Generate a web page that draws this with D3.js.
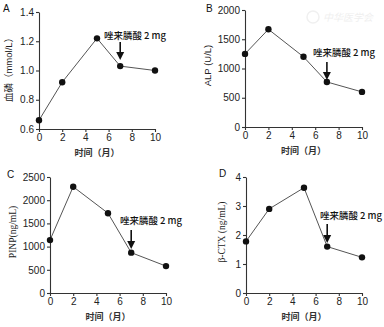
<!DOCTYPE html>
<html><head><meta charset="utf-8">
<script src="https://cdn.jsdelivr.net/npm/d3@7"></script>
<style>body{margin:0;background:#fff}svg{display:block}</style>
</head><body>
<svg id="c" width="384" height="327"></svg>
<script>
const months = [0, 2, 5, 7, 10];
const xTicks = [0, 2, 4, 6, 8, 10];
const phosphate = [0.66, 0.92, 1.22, 1.03, 1.00];
const alp = [1250, 1670, 1200, 770, 600];
const pinp = [1140, 2290, 1720, 870, 580];
const ctx = [1.78, 2.90, 3.63, 1.60, 1.23];
const ticksA = [0.6, 0.8, 1.0, 1.2, 1.4];
const ticksB = [0, 500, 1000, 1500, 2000];
const ticksC = [0, 500, 1000, 1500, 2000, 2500];
const ticksD = [0, 1, 2, 3, 4];
const xLabel = "时间（月）";
const annotation = "唑来膦酸 2 mg";
const drugMonth = 7;

const svg = d3.select("#c");
const sans = "'Liberation Sans', Arial, 'Noto Sans CJK SC', sans-serif";
const serif = "'Liberation Serif', 'Times New Roman', serif";

const panels = [
  {letter:"A", lx:3, ly:7, x0:39, x1:155, yTop:12, yBot:129, dom:[0.6,1.4], ticks:ticksA, fmt:d3.format(".1f"), data:phosphate,
   ylab:"血磷（mmol/L）", ylabX:8, ylabFont:sans, annX:135, annY:39, arrTop:42, arrBot:60},
  {letter:"B", lx:206, ly:7, x0:245, x1:362, yTop:10, yBot:127, dom:[0,2000], ticks:ticksB, fmt:d3.format("d"), data:alp,
   ylab:"ALP (U/L)", ylabX:207, ylabFont:sans, annX:344, annY:56, arrTop:62, arrBot:80},
  {letter:"C", lx:7, ly:173, x0:50, x1:166, yTop:177, yBot:293, dom:[0,2500], ticks:ticksC, fmt:d3.format("d"), data:pinp,
   ylab:"PINP(ng/mL)", ylabX:13, ylabFont:serif, annX:151, annY:224, arrTop:230, arrBot:249},
  {letter:"D", lx:219, ly:172, x0:246, x1:362, yTop:177, yBot:293, dom:[0,4], ticks:ticksD, fmt:d3.format("d"), data:ctx,
   ylab:"β-CTX (ng/mL)", ylabX:222, ylabFont:serif, annX:351, annY:219, arrTop:224, arrBot:243}
];

// faint watermark
svg.append("circle").attr("cx",313).attr("cy",17).attr("r",6).attr("fill","none").attr("stroke","#f0f0f0").attr("stroke-width",1.5);
svg.append("text").attr("x",323).attr("y",21).attr("font-family","'Noto Sans CJK SC'").attr("font-size",10)
  .attr("fill","#efefef").attr("font-style","italic").text("中华医学会");

panels.forEach(p => {
  const x = d3.scaleLinear().domain([0,10]).range([p.x0, p.x1]);
  const y = d3.scaleLinear().domain(p.dom).range([p.yBot, p.yTop]);
  const g = svg.append("g");

  const xa = g.append("g").attr("transform",`translate(0,${p.yBot})`)
    .call(d3.axisBottom(x).tickValues(xTicks).tickSize(3).tickSizeOuter(0).tickPadding(2));
  const ya = g.append("g").attr("transform",`translate(${p.x0},0)`)
    .call(d3.axisLeft(y).tickValues(p.ticks).tickFormat(p.fmt).tickSize(3).tickSizeOuter(0).tickPadding(2));
  [xa, ya].forEach(a => {
    a.selectAll("path,line").attr("stroke","#333").attr("stroke-width",1.1);
    a.selectAll("text").attr("font-family",sans).attr("font-size",10).attr("fill","#222");
  });

  g.append("path").datum(months.map((m,i)=>[m,p.data[i]]))
    .attr("fill","none").attr("stroke","#555").attr("stroke-width",1)
    .attr("d", d3.line().x(d=>x(d[0])).y(d=>y(d[1])));
  g.selectAll("circle.pt").data(months.map((m,i)=>[m,p.data[i]])).enter().append("circle")
    .attr("cx",d=>x(d[0])).attr("cy",d=>y(d[1])).attr("r",3.2).attr("fill","#111");

  g.append("text").attr("x",p.lx).attr("y",p.ly+5).attr("font-family",sans).attr("font-size",10).attr("fill","#111").text(p.letter);

  const cy = (p.yTop+p.yBot)/2 - 3;
  g.append("text").attr("transform",`translate(${p.ylabX},${cy}) rotate(-90)`).attr("text-anchor","middle")
    .attr("dominant-baseline","central").attr("font-family",p.ylabFont).attr("font-size",9.5).attr("fill","#222").text(p.ylab);

  g.append("text").attr("x",(p.x0+p.x1)/2).attr("y",p.yBot+27).attr("text-anchor","middle")
    .attr("font-family","'Noto Sans CJK SC', sans-serif").attr("font-size",9).attr("font-weight","bold").attr("fill","#333").text(xLabel);

  g.append("text").attr("x",p.annX).attr("y",p.annY).attr("text-anchor","middle")
    .attr("font-family","'Noto Sans CJK SC', sans-serif").attr("font-size",9.5).attr("font-weight",500).attr("fill","#111").text(annotation);
  const ax = x(drugMonth);
  g.append("line").attr("x1",ax).attr("x2",ax).attr("y1",p.arrTop).attr("y2",p.arrBot-6).attr("stroke","#111").attr("stroke-width",1.6);
  g.append("path").attr("d",`M${ax-4},${p.arrBot-8}L${ax+4},${p.arrBot-8}L${ax},${p.arrBot}Z`).attr("fill","#111");
});
</script>
</body></html>
